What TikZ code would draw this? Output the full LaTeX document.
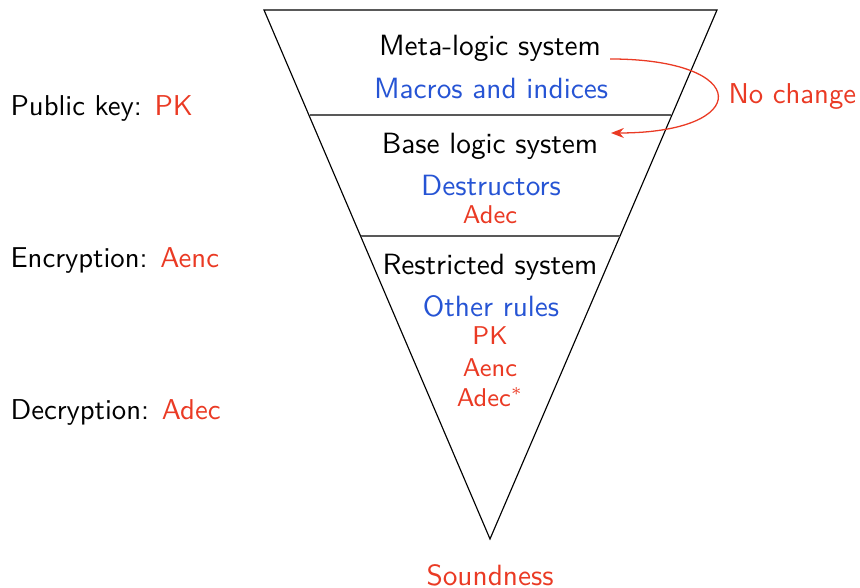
\documentclass[tikz,border=0pt]{standalone}
\usetikzlibrary{arrows.meta}
\definecolor{myred}{RGB}{234,58,36}
\definecolor{myblue}{RGB}{38,84,212}
\begin{document}
\begin{tikzpicture}[x=0.35pt,y=-0.35pt,
  every node/.style={inner sep=0pt,font=\sffamily\fontsize{10.25}{12}\selectfont},
  lbl/.style={text=black},
  rule/.style={myblue},
  key/.style={text=myred},
  keysm/.style={text=myred,font=\sffamily\fontsize{9}{10}\selectfont},
  side/.style={anchor=west,font=\sffamily\fontsize{10.05}{12}\selectfont},
  sep/.style={draw=black!65,line width=0.55pt}]
\useasboundingbox (0,0) rectangle (860,588);
% funnel
\coordinate (tl) at (264,10);
\coordinate (tr) at (717,10);
\coordinate (ap) at (490,539);
\draw[black,line width=0.4pt] (tl) -- (tr) -- (ap) -- cycle;
\coordinate (s1l) at (309.5,115);
\coordinate (s1r) at (671,115);
\coordinate (s2l) at (361,236);
\coordinate (s2r) at (620,236);
\draw[sep] (s1l) -- (s1r);
\draw[sep] (s2l) -- (s2r);
% texts
\node[lbl] (meta) at (490,48) {Meta-logic system};
\node[rule] (macros) at (491,89) {Macros and indices};
\node[lbl] (base) at (490,146) {Base logic system};
\node[rule] (destr) at (491,186) {Destructors};
\node[keysm] (adec1) at (490,215) {Adec};
\node[lbl] (restr) at (490,267) {Restricted system};
\node[rule] (other) at (491,306) {Other rules};
\node[keysm] (pk) at (490,336) {PK};
\node[keysm] (aenc) at (490,368) {Aenc};
\node[keysm] (adec2) at (490,397) {Adec$^{*}$};
\node[key] (sound) at (490,575) {Soundness};
\node[side] (pubkey) at (10,108) {Public key: \textcolor{myred}{PK}};
\node[side] (enc) at (10,260) {Encryption: \textcolor{myred}{Aenc}};
\node[side] (dec) at (10,412) {Decryption: \textcolor{myred}{Adec}};
\node[key,side] (nochange) at (728,97) {No change};
% arrow
\coordinate (astart) at (610,59);
\coordinate (aend) at (611,133);
\draw[myred,line width=0.45pt,-{Stealth[length=4.5pt,width=3.5pt]}] (astart) .. controls (753,59) and (753,133) .. (aend);
\end{tikzpicture}
\end{document}
